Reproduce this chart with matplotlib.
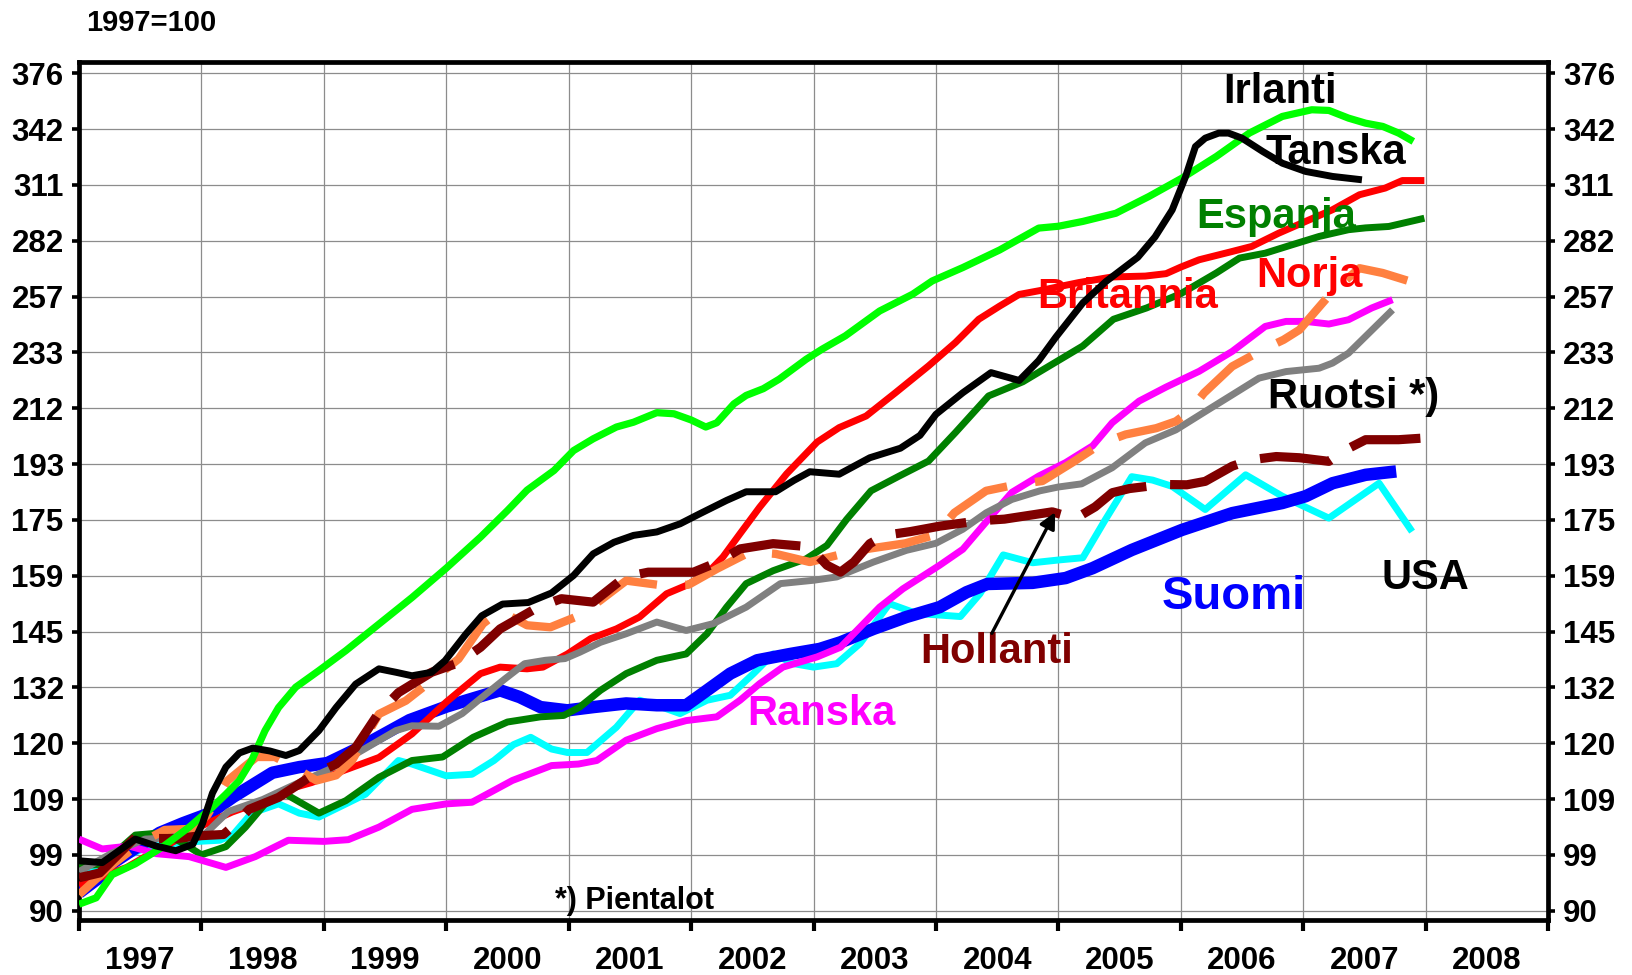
import matplotlib
matplotlib.use("Agg")
import matplotlib.pyplot as plt
from matplotlib.ticker import FixedLocator, FixedFormatter, NullLocator, NullFormatter

plt.rcParams['font.family'] = ['Liberation Sans', 'DejaVu Sans']
plt.rcParams['font.weight'] = 'bold'

# ---------------- data (index, 1997=100) ----------------
irlanti = [(1997.0, 91.0), (1997.14, 92.0), (1997.27, 95.7), (1997.46, 97.5), (1997.68, 100.3), (1997.90, 103.8),
           (1998.09, 107.4), (1998.20, 109.8), (1998.31, 112.4), (1998.41, 116.3), (1998.52, 122.4), (1998.63, 127.3),
           (1998.77, 131.8), (1998.96, 135.6), (1999.18, 140.3), (1999.45, 146.8), (1999.72, 153.6), (2000.0, 161.5),
           (2000.28, 170.3), (2000.50, 178.2), (2000.66, 184.5), (2000.88, 190.8), (2001.04, 197.4), (2001.20, 201.4),
           (2001.39, 205.5), (2001.53, 207.2), (2001.72, 210.6), (2001.86, 210.2), (2002.0, 208.0), (2002.12, 205.5),
           (2002.21, 207.0), (2002.35, 213.8), (2002.45, 216.9), (2002.59, 219.4), (2002.72, 223.0), (2002.94, 230.7),
           (2003.07, 234.7), (2003.26, 240.1), (2003.54, 250.5), (2003.81, 257.8), (2003.97, 263.7), (2004.22, 269.8),
           (2004.52, 278.0), (2004.84, 288.6), (2005.0, 289.5), (2005.20, 291.9), (2005.47, 296.0), (2005.74, 304.6),
           (2006.01, 314.3), (2006.29, 326.1), (2006.56, 339.4), (2006.83, 349.2), (2007.07, 353.2), (2007.21, 352.8),
           (2007.37, 348.2), (2007.51, 345.2), (2007.65, 343.3), (2007.78, 339.4), (2007.90, 334.6)]

tanska = [(1997.0, 98.0), (1997.19, 97.7), (1997.46, 101.7), (1997.63, 100.5), (1997.79, 99.7), (1997.93, 100.8),
          (1998.01, 104.5), (1998.09, 110.0), (1998.20, 115.0), (1998.31, 117.8), (1998.42, 118.8), (1998.56, 118.2),
          (1998.69, 117.3), (1998.80, 118.3), (1998.96, 122.4), (1999.10, 127.3), (1999.26, 132.5), (1999.45, 136.0),
          (1999.59, 135.2), (1999.72, 134.4), (1999.88, 135.2), (1999.99, 137.9), (2000.16, 144.3), (2000.29, 148.9),
          (2000.46, 151.9), (2000.67, 152.3), (2000.86, 154.8), (2001.04, 159.5), (2001.20, 165.5), (2001.37, 168.8),
          (2001.53, 170.8), (2001.72, 171.8), (2001.91, 174.2), (2002.07, 177.2), (2002.29, 181.3), (2002.45, 184.0),
          (2002.69, 184.0), (2002.84, 187.6), (2002.97, 190.4), (2003.21, 189.6), (2003.46, 195.0), (2003.71, 198.2),
          (2003.87, 202.6), (2004.0, 210.0), (2004.22, 217.9), (2004.45, 225.5), (2004.68, 222.5), (2004.84, 230.2),
          (2004.98, 239.6), (2005.20, 254.0), (2005.39, 263.5), (2005.65, 274.6), (2005.79, 284.3), (2005.93, 297.7),
          (2006.04, 315.2), (2006.12, 331.7), (2006.20, 336.5), (2006.31, 339.4), (2006.39, 339.4), (2006.50, 336.5),
          (2006.67, 328.9), (2006.83, 322.4), (2007.02, 317.9), (2007.24, 315.2), (2007.48, 313.4)]

britannia = [(1997.0, 94.0), (1997.2, 95.5), (1997.39, 96.9), (1997.55, 98.8), (1997.75, 101.0), (1998.0, 104.0),
             (1998.25, 106.5), (1998.5, 108.5), (1998.75, 111.0), (1998.90, 112.0), (1999.18, 114.5), (1999.45, 116.9),
             (1999.72, 121.7), (2000.0, 128.5), (2000.11, 131.0), (2000.28, 134.9), (2000.44, 136.4), (2000.66, 136.0),
             (2000.79, 136.4), (2000.99, 139.5), (2001.18, 143.2), (2001.39, 145.6), (2001.58, 148.6), (2001.80, 154.6),
             (2001.96, 156.8), (2002.13, 160.0), (2002.26, 164.6), (2002.40, 171.3), (2002.56, 179.2), (2002.78, 189.7),
             (2003.03, 200.3), (2003.21, 205.3), (2003.43, 209.4), (2003.67, 217.9), (2003.94, 228.1), (2004.16, 237.4),
             (2004.35, 247.0), (2004.52, 252.6), (2004.68, 257.7), (2004.86, 259.5), (2005.17, 263.0), (2005.44, 265.5),
             (2005.71, 265.9), (2005.88, 267.0), (2006.0, 270.0), (2006.15, 273.4), (2006.42, 277.3), (2006.58, 279.7),
             (2006.80, 286.1), (2007.02, 291.9), (2007.24, 297.8), (2007.46, 305.5), (2007.67, 309.0), (2007.81, 313.0),
             (2007.99, 313.0)]

espanja = [(1997.0, 97.2), (1997.19, 97.4), (1997.46, 102.4), (1997.68, 102.8), (1997.85, 101.0), (1998.0, 99.0),
           (1998.2, 100.4), (1998.36, 103.8), (1998.52, 108.0), (1998.69, 109.8), (1998.96, 106.3), (1999.18, 108.6),
           (1999.45, 113.0), (1999.72, 116.3), (1999.97, 117.0), (2000.22, 121.0), (2000.50, 124.2), (2000.77, 125.3),
           (2000.96, 125.6), (2001.09, 127.4), (2001.26, 131.1), (2001.47, 134.9), (2001.72, 138.0), (2001.96, 139.5),
           (2002.13, 144.4), (2002.29, 151.1), (2002.45, 157.3), (2002.67, 160.8), (2002.94, 164.1), (2003.11, 167.9),
           (2003.27, 175.5), (2003.47, 184.3), (2003.70, 189.0), (2003.94, 193.9), (2004.16, 203.6), (2004.43, 216.7),
           (2004.71, 222.0), (2004.92, 227.9), (2005.20, 236.0), (2005.45, 247.0), (2005.72, 251.8), (2006.0, 258.0),
           (2006.29, 267.3), (2006.48, 274.2), (2006.69, 276.5), (2006.91, 280.5), (2007.13, 284.5), (2007.37, 287.8),
           (2007.51, 288.7), (2007.70, 289.4), (2007.99, 293.5)]

norja = [(1997.0, 92.5), (1997.25, 97.0), (1997.5, 101.0), (1997.7, 103.3), (1997.93, 103.5), (1998.05, 106.0),
         (1998.21, 112.3), (1998.45, 117.0), (1998.6, 117.0), (1998.72, 115.5), (1998.94, 112.4), (1999.10, 113.4),
         (1999.23, 116.3), (1999.45, 125.9), (1999.67, 128.8), (1999.88, 133.3), (2000.10, 138.3), (2000.30, 146.9),
         (2000.44, 150.2), (2000.66, 146.5), (2000.85, 146.0), (2001.09, 149.0), (2001.26, 152.9), (2001.47, 158.1),
         (2001.77, 156.8), (2001.98, 157.0), (2002.21, 161.3), (2002.48, 166.0), (2002.69, 165.5), (2002.97, 163.2),
         (2003.24, 165.5), (2003.46, 167.0), (2003.75, 168.5), (2004.0, 171.0), (2004.15, 177.5), (2004.41, 184.3),
         (2004.67, 186.4), (2004.87, 187.4), (2005.11, 193.3), (2005.36, 200.0), (2005.55, 202.9), (2005.80, 205.1),
         (2005.96, 207.5), (2006.07, 211.0), (2006.19, 217.8), (2006.42, 227.9), (2006.67, 234.5), (2006.84, 238.5),
         (2006.97, 242.6), (2007.11, 251.0), (2007.24, 259.0), (2007.46, 269.5), (2007.65, 267.3), (2007.96, 262.0)]

ranska = [(1997.0, 101.7), (1997.19, 100.0), (1997.41, 100.5), (1997.63, 99.2), (1997.9, 98.7), (1998.2, 96.9),
          (1998.44, 98.7), (1998.71, 101.5), (1999.0, 101.3), (1999.2, 101.6), (1999.45, 103.8), (1999.72, 107.0),
          (2000.0, 108.0), (2000.21, 108.3), (2000.54, 112.4), (2000.86, 115.3), (2001.08, 115.6), (2001.23, 116.3),
          (2001.47, 120.4), (2001.72, 122.8), (2001.96, 124.5), (2002.21, 125.3), (2002.40, 128.9), (2002.56, 132.6),
          (2002.75, 136.4), (2003.03, 138.8), (2003.22, 141.1), (2003.38, 146.0), (2003.54, 151.1), (2003.73, 155.9),
          (2004.03, 162.3), (2004.22, 166.8), (2004.43, 175.6), (2004.62, 183.8), (2004.84, 189.0), (2005.06, 193.4),
          (2005.28, 199.0), (2005.44, 207.0), (2005.66, 214.8), (2005.88, 220.0), (2006.15, 226.0), (2006.42, 233.8),
          (2006.69, 244.0), (2006.86, 246.1), (2007.02, 246.1), (2007.21, 245.0), (2007.37, 246.8), (2007.56, 251.8),
          (2007.73, 255.4)]

ruotsi = [(1997.0, 96.2), (1997.27, 99.3), (1997.54, 101.7), (1997.82, 102.0), (1998.03, 102.6), (1998.22, 106.6),
          (1998.50, 108.8), (1998.77, 111.7), (1999.04, 114.5), (1999.31, 118.3), (1999.59, 122.4), (1999.72, 123.4),
          (1999.94, 123.3), (2000.13, 126.0), (2000.29, 129.5), (2000.48, 133.7), (2000.64, 137.2), (2000.81, 138.0),
          (2000.97, 138.4), (2001.09, 139.9), (2001.26, 142.3), (2001.47, 144.4), (2001.72, 147.3), (2001.96, 145.2),
          (2002.18, 146.9), (2002.45, 151.1), (2002.73, 157.3), (2003.0, 158.2), (2003.19, 159.1), (2003.49, 163.2),
          (2003.76, 166.5), (2004.0, 168.5), (2004.22, 172.6), (2004.41, 177.5), (2004.62, 181.6), (2004.85, 184.3),
          (2005.0, 185.5), (2005.19, 186.5), (2005.44, 191.7), (2005.71, 200.0), (2005.96, 204.5), (2006.20, 211.0),
          (2006.42, 217.1), (2006.64, 223.4), (2006.86, 225.9), (2007.13, 227.2), (2007.24, 229.2), (2007.37, 233.1),
          (2007.51, 239.9), (2007.73, 251.0)]

hollanti = [(1997.0, 95.2), (1997.17, 96.0), (1997.46, 102.0), (1997.6, 101.8), (1997.8, 101.8), (1998.0, 102.3),
            (1998.18, 102.5), (1998.25, 103.8), (1998.39, 107.0), (1998.63, 109.2), (1998.90, 113.3), (1999.10, 115.6),
            (1999.26, 118.9), (1999.45, 126.2), (1999.61, 130.6), (1999.88, 135.2), (2000.10, 137.4), (2000.28, 141.1),
            (2000.44, 145.6), (2000.75, 151.1), (2000.94, 153.3), (2001.20, 152.4), (2001.46, 159.1), (2001.65, 160.4),
            (2002.02, 160.4), (2002.22, 163.2), (2002.40, 166.9), (2002.67, 168.4), (2002.97, 167.5), (2003.11, 162.3),
            (2003.22, 160.4), (2003.33, 163.2), (2003.46, 168.4), (2003.58, 170.8), (2003.79, 171.9), (2004.03, 173.5),
            (2004.35, 175.1), (2004.56, 175.6), (2004.95, 177.8), (2005.14, 175.8), (2005.30, 179.3), (2005.44, 183.7),
            (2005.58, 185.0), (2005.85, 186.3), (2006.05, 186.2), (2006.20, 187.3), (2006.42, 192.2), (2006.57, 194.3),
            (2006.78, 195.4), (2006.97, 195.0), (2007.21, 193.8), (2007.35, 197.7), (2007.51, 201.1), (2007.78, 201.1),
            (2007.96, 201.6)]

suomi = [(1997.0, 92.8), (1997.15, 95.0), (1997.25, 97.3), (1997.45, 100.0), (1997.66, 102.8), (1997.85, 104.5),
         (1998.07, 106.3), (1998.26, 109.3), (1998.58, 113.9), (1998.8, 115.0), (1999.03, 115.8), (1999.30, 119.0),
         (1999.70, 124.6), (2000.0, 127.5), (2000.17, 128.9), (2000.44, 131.1), (2000.60, 129.6), (2000.77, 127.4),
         (2000.99, 126.7), (2001.20, 127.4), (2001.47, 128.2), (2001.72, 127.8), (2001.96, 127.8), (2002.13, 131.1),
         (2002.32, 134.9), (2002.54, 138.0), (2002.81, 139.5), (2003.05, 140.7), (2003.22, 142.3), (2003.49, 145.6),
         (2003.76, 148.6), (2004.03, 151.1), (2004.25, 155.0), (2004.42, 157.2), (2004.79, 157.5), (2005.06, 158.8),
         (2005.28, 161.5), (2005.60, 166.6), (2006.01, 172.4), (2006.42, 177.4), (2006.83, 180.5), (2007.02, 182.6),
         (2007.24, 186.7), (2007.51, 189.4), (2007.76, 190.5)]

usa = [(1997.0, 95.5), (1997.25, 97.5), (1997.55, 100.3), (1997.88, 101.2), (1998.15, 101.5), (1998.26, 102.5),
       (1998.41, 106.3), (1998.63, 108.0), (1998.8, 106.3), (1998.96, 105.6), (1999.18, 108.0), (1999.34, 109.8),
       (1999.61, 116.3), (1999.72, 115.6), (2000.0, 113.3), (2000.21, 113.6), (2000.39, 116.3), (2000.55, 119.5),
       (2000.69, 121.0), (2000.86, 118.6), (2000.99, 117.9), (2001.15, 117.9), (2001.39, 123.1), (2001.58, 128.9),
       (2001.75, 127.5), (2001.91, 126.0), (2002.13, 128.9), (2002.32, 130.0), (2002.51, 134.9), (2002.67, 139.5),
       (2002.84, 137.2), (2003.0, 136.4), (2003.19, 137.2), (2003.38, 142.0), (2003.62, 152.0), (2003.84, 149.5),
       (2004.20, 148.7), (2004.36, 154.6), (2004.55, 165.2), (2004.79, 163.0), (2005.01, 163.8), (2005.20, 164.4),
       (2005.38, 175.2), (2005.60, 188.8), (2005.77, 187.7), (2005.93, 185.7), (2006.20, 178.5), (2006.53, 189.4),
       (2006.83, 182.6), (2007.21, 175.9), (2007.62, 186.7), (2007.89, 171.9)]

y_tick_values = [90, 99, 108.9, 119.79, 131.77, 144.95, 159.44, 175.38, 192.92, 212.21,
                 233.43, 256.78, 282.46, 310.70, 341.77, 375.95]
y_tick_labels = ["90", "99", "109", "120", "132", "145", "159", "175", "193", "212",
                 "233", "257", "282", "311", "342", "376"]
year_bounds = list(range(1997, 2010))
year_labels = [str(y) for y in range(1997, 2009)]

# ---------------- figure ----------------
W, H = 1632, 975
fig = plt.figure(figsize=(W / 100, H / 100), dpi=100)
ax = fig.add_axes([79 / W, 1 - 920 / H, (1548 - 79) / W, (920 - 62) / H])
ax.set_yscale('log')
ax.set_xlim(1997, 2009)
ax.set_ylim(88.58, 383.2)

series = [
    (usa, '#00FFFF', 5.0, None, 2),
    (suomi, '#0000FF', 9.0, None, 3),
    (britannia, '#FF0000', 5.0, None, 4),
    (espanja, '#008000', 5.0, None, 5),
    (ranska, '#FF00FF', 5.0, None, 6),
    (ruotsi, '#808080', 5.0, None, 7),
    (norja, '#FF8040', 6.0, (8.0, 3.4), 8),
    (hollanti, '#800000', 6.6, (7.8, 2.6), 9),
    (irlanti, '#00FF00', 5.2, None, 10),
    (tanska, '#000000', 5.0, None, 11),
]
for data, col, lw, dashes, z in series:
    xs = [p[0] for p in data]
    ys = [p[1] for p in data]
    line, = ax.plot(xs, ys, color=col, lw=lw, zorder=z, solid_joinstyle='round',
                    solid_capstyle='butt')
    if dashes is not None:
        line.set_dashes(dashes)
        line.set_dash_capstyle('butt')

# axes styling
ax.yaxis.set_major_locator(FixedLocator(y_tick_values))
ax.yaxis.set_major_formatter(FixedFormatter(y_tick_labels))
ax.yaxis.set_minor_locator(NullLocator())
ax.yaxis.set_minor_formatter(NullFormatter())
ax.xaxis.set_major_locator(FixedLocator(year_bounds))
ax.xaxis.set_major_formatter(NullFormatter())
ax.xaxis.set_minor_locator(FixedLocator([y + 0.5 for y in range(1997, 2009)]))
ax.xaxis.set_minor_formatter(FixedFormatter(year_labels))

ax.tick_params(axis='y', which='major', left=True, right=True, labelleft=True, labelright=True,
               direction='out', length=5, width=2.6, pad=6, labelsize=22.5)
ax.tick_params(axis='x', which='major', direction='out', length=8, width=3, bottom=True, top=False)
ax.tick_params(axis='x', which='minor', length=0, pad=19, labelsize=22.5)
for lab in ax.get_xticklabels(minor=True) + ax.get_yticklabels():
    lab.set_fontweight('bold')

ax.grid(True, which='major', axis='both', color='#8c8c8c', linewidth=0.9, zorder=0)
ax.set_axisbelow(True)
for s in ax.spines.values():
    s.set_linewidth(3.4)
    s.set_color('black')

# ---------------- labels ----------------
lab_kw = dict(fontsize=30, fontweight='bold', ha='left', va='baseline')
ax.text(2006.35, 357.3, 'Irlanti', color='black', zorder=20, **lab_kw)
ax.text(2006.69, 321.9, 'Tanska', color='black', zorder=20, **lab_kw)
ax.text(2006.13, 288.6, 'Espanja', color='#008000', zorder=20, **lab_kw)
ax.text(2004.83, 251.8, 'Britannia', color='#FF0000', zorder=10.5, **lab_kw)
ax.text(2006.62, 260.9, 'Norja', color='#FF0000', zorder=20, **lab_kw)
ax.text(2006.71, 212.3, 'Ruotsi *)', color='black', zorder=20, **lab_kw)
ax.text(2007.64, 155.8, 'USA', color='black', zorder=20, **lab_kw)
ax.text(2005.84, 150.6, 'Suomi', color='#0000FF', zorder=20, fontsize=34, fontweight='bold',
        ha='left', va='baseline')
ax.text(2003.87, 137.4, 'Hollanti', color='#800000', zorder=20, **lab_kw)
ax.text(2002.46, 123.6, 'Ranska', color='#FF00FF', zorder=20, **lab_kw)
ax.text(2000.89, 90.26, '*) Pientalot', color='black', fontsize=22, fontweight='bold',
        ha='left', va='baseline', zorder=20)

ax.annotate('', xy=(2004.974, 177.7), xytext=(2004.457, 144.5),
            arrowprops=dict(arrowstyle='-|>', color='black', lw=2.4, mutation_scale=24,
                            shrinkA=0, shrinkB=0), zorder=21)

fig.text(86 / W, 1 - 31 / H, '1997=100', fontsize=21, fontweight='bold', ha='left', va='baseline')

fig.savefig('out.png', dpi=100)
